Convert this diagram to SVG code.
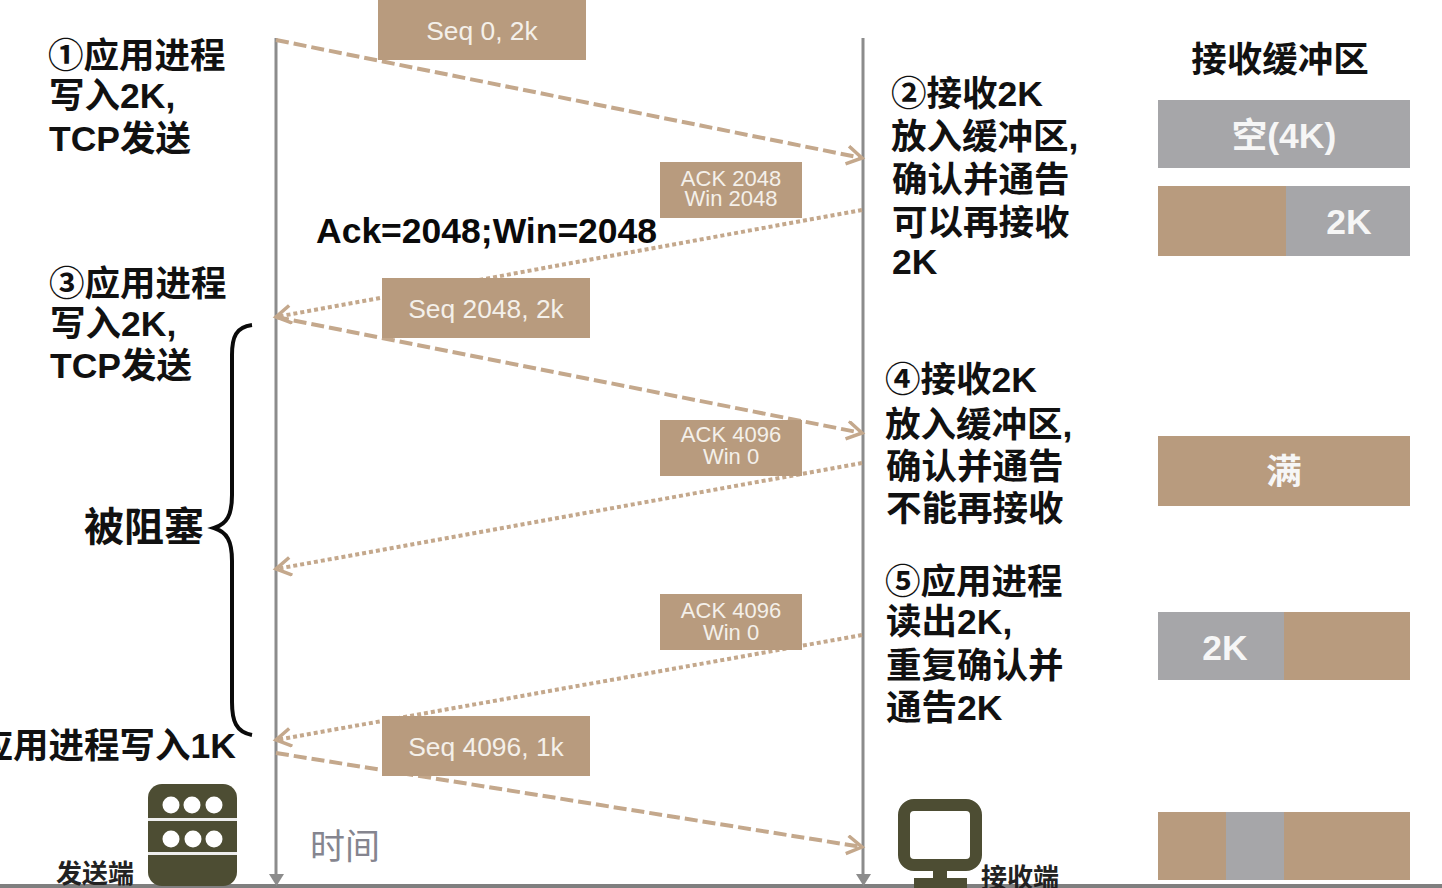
<svg xmlns="http://www.w3.org/2000/svg" width="1442" height="888" viewBox="0 0 1442 888">
<defs>
<marker id="arr" markerUnits="userSpaceOnUse" markerWidth="24" markerHeight="24" refX="18" refY="10" orient="auto"><path d="M3 1 L18 10 L3 19" fill="none" stroke="#c4a88c" stroke-width="3.500"/></marker>
</defs>
<style>
text{font-family:"Liberation Sans","Noto Sans CJK SC",sans-serif}
.t{font-size:35.500px;font-weight:700;fill:#111}
.box{fill:#b89b7e}
.gr{fill:#a6a6a9}
.s{fill:#f4f0ea;font-size:26.400px;text-anchor:middle}
.a{fill:#f4f0ea;font-size:22px;text-anchor:middle}
.w{fill:#f6f6f6;font-size:35.500px;font-weight:700;text-anchor:middle}
.da{fill:none;stroke:#c4a88c;stroke-width:4;stroke-dasharray:13 5;marker-end:url(#arr)}
.do{fill:none;stroke:#c4a88c;stroke-width:4;stroke-dasharray:4 3;marker-end:url(#arr)}
.life{stroke:#8c8c8c;stroke-width:3;fill:none}
.ic{fill:#4d4d33}
</style>
<rect width="1442" height="888" fill="#fff"/>
<rect y="884" width="1442" height="4" fill="#7f7f7f"/>
<g id="connectors">
<path class="life" d="M276 38V876"/><path d="M269 874h15l-7.500 12z" fill="#8c8c8c"/>
<path class="life" d="M863 38V876"/><path d="M856 874h15l-7.500 12z" fill="#8c8c8c"/>
<path class="da" d="M276 40L862 158"/>
<path class="do" d="M862 210L276 317"/>
<path class="da" d="M276 317L862 433"/>
<path class="do" d="M862 463L276 569"/>
<path class="do" d="M862 635L276 740"/>
<path class="da" d="M276 753L862 847"/>
</g>
<g id="brace"><path d="M252 325C236 327 232 337 232 355V495C232 515 227 524 214 528C227 532 232 541 232 561V702C232 721 236 732 252 735" fill="none" stroke="#0a0a0a" stroke-width="4"/></g>
<g id="seq1"><rect class="box" x="378" y="0" width="208" height="60"/><text class="s" x="482" y="40">Seq 0, 2k</text></g>
<g id="ack1"><rect class="box" x="660" y="162" width="142" height="56"/><text class="a" x="731" y="186">ACK 2048</text><text class="a" x="731" y="206">Win 2048</text></g>
<g id="seq2"><rect class="box" x="382" y="278" width="208" height="60"/><text class="s" x="486" y="318">Seq 2048, 2k</text></g>
<g id="ack2"><rect class="box" x="660" y="420" width="142" height="56"/><text class="a" x="731" y="442">ACK 4096</text><text class="a" x="731" y="464">Win 0</text></g>
<g id="ack3"><rect class="box" x="660" y="594" width="142" height="56"/><text class="a" x="731" y="618">ACK 4096</text><text class="a" x="731" y="640">Win 0</text></g>
<g id="seq3"><rect class="box" x="382" y="716" width="208" height="60"/><text class="s" x="486" y="756">Seq 4096, 1k</text></g>
<g id="label-ack"><text x="316" y="243" font-size="35.500" font-weight="700" fill="#0a0a0a">Ack=2048;Win=2048</text></g>
<g id="step1"><text class="t" x="48" y="68">①应用进程</text><text class="t" x="49" y="108">写入2K,</text><text class="t" x="49" y="151">TCP发送</text></g>
<g id="step3"><text class="t" x="49" y="296">③应用进程</text><text class="t" x="50" y="336">写入2K,</text><text class="t" x="50" y="378">TCP发送</text></g>
<g id="blocked"><text x="84" y="541" font-size="40" font-weight="700" fill="#111">被阻塞</text></g>
<g id="step-write"><text class="t" x="236" y="758" text-anchor="end">应用进程写入1K</text></g>
<g id="step2"><text class="t" x="891" y="106">②接收2K</text><text class="t" x="891" y="149">放入缓冲区,</text><text class="t" x="892" y="192">确认并通告</text><text class="t" x="892" y="235">可以再接收</text><text class="t" x="892" y="274">2K</text></g>
<g id="step4"><text class="t" x="885" y="392">④接收2K</text><text class="t" x="885" y="437">放入缓冲区,</text><text class="t" x="886" y="479">确认并通告</text><text class="t" x="886" y="521">不能再接收</text></g>
<g id="step5"><text class="t" x="885" y="594">⑤应用进程</text><text class="t" x="886" y="634">读出2K,</text><text class="t" x="886" y="678">重复确认并</text><text class="t" x="886" y="720">通告2K</text></g>
<g id="buffer-title"><text class="t" x="1280" y="72" text-anchor="middle">接收缓冲区</text></g>
<g id="buf1"><rect class="gr" x="1158" y="100" width="252" height="68"/><text class="w" x="1284" y="148">空(4K)</text></g>
<g id="buf2"><rect class="box" x="1158" y="186" width="128" height="70"/><rect class="gr" x="1286" y="186" width="124" height="70"/><text class="w" x="1349" y="234">2K</text></g>
<g id="buf3"><rect class="box" x="1158" y="436" width="252" height="70"/><text class="w" x="1284" y="484">满</text></g>
<g id="buf4"><rect class="gr" x="1158" y="612" width="126" height="68"/><rect class="box" x="1284" y="612" width="126" height="68"/><text class="w" x="1225" y="660">2K</text></g>
<g id="buf5"><rect class="box" x="1158" y="812" width="68" height="68"/><rect class="gr" x="1226" y="812" width="58" height="68"/><rect class="box" x="1284" y="812" width="126" height="68"/></g>
<g id="sender"><rect class="ic" x="148" y="784" width="89" height="102" rx="14"/><rect x="148" y="818" width="89" height="3" fill="#eee"/><rect x="148" y="852" width="89" height="3" fill="#eee"/>
<g fill="#fff"><circle cx="171" cy="805" r="8.500"/><circle cx="192" cy="805" r="8.500"/><circle cx="214" cy="805" r="8.500"/><circle cx="171" cy="839" r="8.500"/><circle cx="193" cy="839" r="8.500"/><circle cx="214" cy="839" r="8.500"/></g>
<text x="56" y="883" font-size="26" font-weight="700" fill="#222">发送端</text></g>
<g id="time"><text x="310" y="859" font-size="35" fill="#85858f">时间</text></g>
<g id="receiver"><rect x="904" y="805" width="72" height="60" rx="10" fill="#fff" stroke="#4d4d33" stroke-width="12"/><rect class="ic" x="933" y="861" width="14" height="20"/><rect class="ic" x="914" y="878" width="53" height="10"/>
<text x="981" y="887" font-size="26" font-weight="700" fill="#222">接收端</text></g>
</svg>
